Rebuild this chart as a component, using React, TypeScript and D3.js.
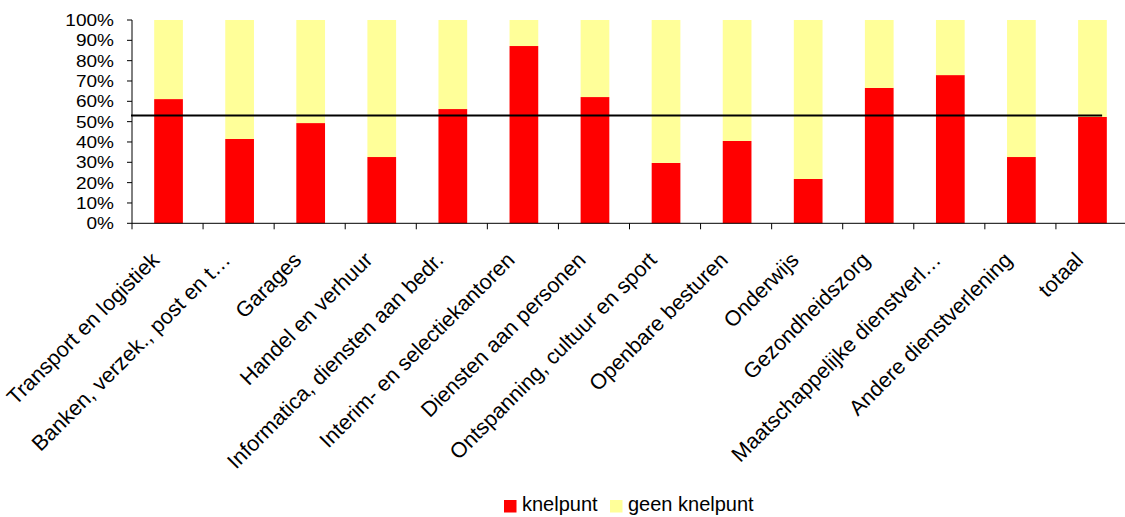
import React from "react";
import * as d3 from "d3";

const categories = [
  "Transport en logistiek",
  "Banken, verzek., post en t…",
  "Garages",
  "Handel en verhuur",
  "Informatica, diensten aan bedr.",
  "Interim- en selectiekantoren",
  "Diensten aan personen",
  "Ontspanning, cultuur en sport",
  "Openbare besturen",
  "Onderwijs",
  "Gezondheidszorg",
  "Maatschappelijke dienstverl…",
  "Andere dienstverlening",
  "totaal",
];
const knelpunt = [61.1, 41.5, 49.3, 32.6, 56.2, 87.2, 62.1, 29.7, 40.5, 21.8, 66.6, 72.9, 32.6, 52.3];
const geenKnelpunt = knelpunt.map((v) => 100 - v);
const threshold = 53.0;
const yTicks = [0, 10, 20, 30, 40, 50, 60, 70, 80, 90, 100];
const seriesNames = ["knelpunt", "geen knelpunt"];
const seriesColors = ["#FF0000", "#FFFF99"];

const W = 1125;
const H = 517;
const FONT = "'Liberation Sans', Arial, sans-serif";

export default function App() {
  const x0 = 132;
  const x1 = 1127;
  const yTop = 20;
  const yBot = 223.3;

  const x = d3.scaleBand<string>().domain(categories).range([x0, x1]).padding(0);
  const y = d3.scaleLinear().domain([0, 100]).range([yBot, yTop]);
  const bw = x.bandwidth();
  const barW = bw * 0.404;

  const rows = categories.map((c, i) => ({ c, k: knelpunt[i], g: geenKnelpunt[i] }));
  const stack = d3.stack<any>().keys(["k", "g"])(rows as any);

  const lineEnd = (x(categories[categories.length - 1]) as number) + bw * 0.65;

  return (
    <div style={{ position: "absolute", left: 0, top: 0 }}>
      <svg width={W} height={H} style={{ display: "block", background: "#fff" }}>
        {/* bars */}
        {stack.map((s, si) =>
          s.map((d, i) => {
            const cx = (x(categories[i]) as number) + bw / 2 + 1;
            return (
              <rect
                key={`${si}-${i}`}
                x={cx - barW / 2}
                y={y(d[1])}
                width={barW}
                height={y(d[0]) - y(d[1])}
                fill={seriesColors[si]}
              />
            );
          })
        )}
        {/* y axis */}
        <line x1={x0} x2={x0} y1={yTop} y2={yBot} stroke="#000" strokeWidth={1} />
        {yTicks.map((t) => (
          <g key={t}>
            <line x1={x0 - 5} x2={x0} y1={y(t)} y2={y(t)} stroke="#000" strokeWidth={1} />
            <text
              transform={`translate(114,${y(t) + 6}) scale(1.12,1)`}
              textAnchor="end"
              fontFamily={FONT}
              fontSize={17}
              fill="#000"
            >
              {t}%
            </text>
          </g>
        ))}
        {/* x axis */}
        <line x1={x0} x2={x1} y1={yBot} y2={yBot} stroke="#000" strokeWidth={1} />
        {categories.map((c, i) => (
          <line
            key={`t${i}`}
            x1={x(c) as number}
            x2={x(c) as number}
            y1={yBot}
            y2={yBot + 6}
            stroke="#000"
            strokeWidth={1}
          />
        ))}
        {categories.map((c, i) => {
          const cx = (x(c) as number) + bw / 2;
          return (
            <text
              key={`l${i}`}
              transform={`translate(${cx - 7},${yBot + 38}) rotate(-45)`}
              textAnchor="end"
              fontFamily={FONT}
              fontSize={21.5}
              fill="#000"
            >
              {c}
            </text>
          );
        })}
        {/* threshold line */}
        <line
          x1={x0 - 1}
          x2={lineEnd}
          y1={y(threshold)}
          y2={y(threshold)}
          stroke="#000"
          strokeWidth={2}
        />
        {/* legend */}
        <g>
          <rect x={504} y={500} width={12.5} height={12.5} fill={seriesColors[0]} />
          <text x={522} y={511} fontFamily={FONT} fontSize={20} fill="#000">
            {seriesNames[0]}
          </text>
          <rect x={610} y={500} width={12.5} height={12.5} fill={seriesColors[1]} />
          <text x={628} y={511} fontFamily={FONT} fontSize={20} fill="#000">
            {seriesNames[1]}
          </text>
        </g>
      </svg>
    </div>
  );
}
